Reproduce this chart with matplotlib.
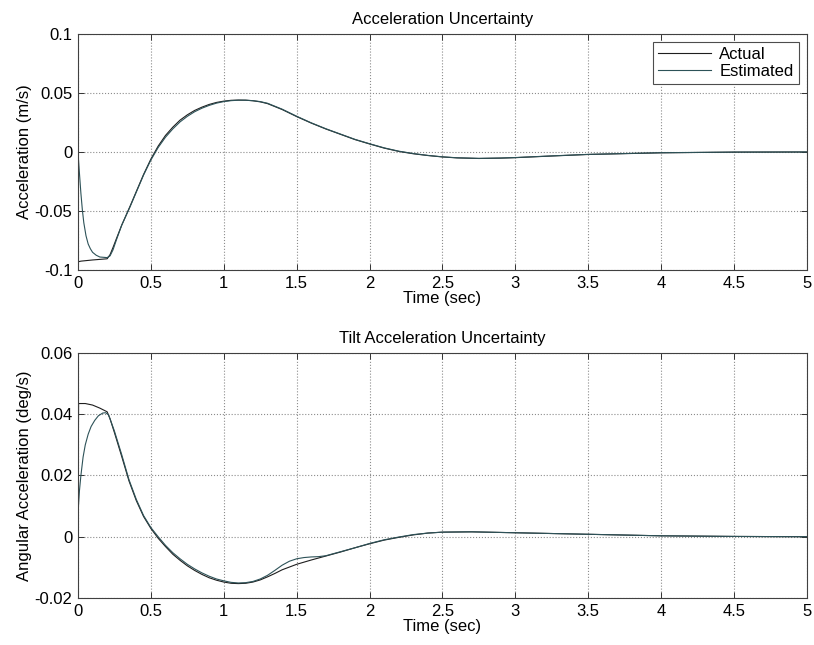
import matplotlib
matplotlib.use('Agg')
import matplotlib.pyplot as plt

plt.rcParams['font.family'] = ['Liberation Sans', 'DejaVu Sans']

# Acceleration uncertainty (top panel)
acc_t_act = [0, 0.003, 0.02, 0.1, 0.2, 0.22, 0.24, 0.265, 0.3, 0.357, 0.4, 0.45, 0.5,
             0.55, 0.6, 0.65, 0.7, 0.75, 0.8, 0.85, 0.9, 0.95, 1.0, 1.05, 1.1, 1.15,
             1.2, 1.25, 1.3, 1.4, 1.5, 1.6, 1.7, 1.8, 1.9, 2.0, 2.1, 2.2, 2.3, 2.4,
             2.5, 2.6, 2.75, 2.9, 3.0, 3.25, 3.5, 4.0, 4.5, 5.0]
acc_act = [0, -0.093, -0.0925, -0.0915, -0.0905, -0.087, -0.081, -0.073, -0.062,
           -0.046, -0.0335, -0.019, -0.006, 0.005, 0.014, 0.021, 0.027, 0.0315,
           0.0352, 0.038, 0.0403, 0.042, 0.0431, 0.0438, 0.0440, 0.0439, 0.0434,
           0.0425, 0.041, 0.036, 0.030, 0.0245, 0.0195, 0.015, 0.0105, 0.0068,
           0.0033, 0.0005, -0.0015, -0.003, -0.0042, -0.005, -0.0055, -0.0052,
           -0.0048, -0.0034, -0.0021, -0.0007, -0.0001, 0]

acc_t_est = [0, 0.01, 0.02, 0.03, 0.04, 0.055, 0.07, 0.085, 0.1, 0.125, 0.15, 0.2,
             0.22, 0.24, 0.265, 0.3, 0.357, 0.4, 0.45, 0.5, 0.55, 0.6, 0.65, 0.7,
             0.75, 0.8, 0.85, 0.9, 0.95, 1.0, 1.05, 1.1, 1.15, 1.2, 1.25, 1.3, 1.4,
             1.5, 1.6, 1.7, 1.8, 1.9, 2.0, 2.1, 2.2, 2.3, 2.4, 2.5, 2.6, 2.75, 2.9,
             3.0, 3.25, 3.5, 4.0, 4.5, 5.0]
acc_est = [0, -0.018, -0.035, -0.049, -0.060, -0.071, -0.078, -0.082, -0.085,
           -0.0875, -0.089, -0.0895, -0.088, -0.083, -0.074, -0.062, -0.0465,
           -0.034, -0.0195, -0.0068, 0.0038, 0.0125, 0.0195, 0.0255, 0.0302,
           0.0341, 0.0371, 0.0395, 0.0414, 0.0427, 0.0435, 0.0439, 0.0439, 0.0435,
           0.0427, 0.0413, 0.0363, 0.0303, 0.0247, 0.0197, 0.0152, 0.0107, 0.0070,
           0.0035, 0.0007, -0.0013, -0.0029, -0.0041, -0.0049, -0.0054, -0.0051,
           -0.0047, -0.0033, -0.0020, -0.0006, -0.0001, 0]

# Tilt acceleration uncertainty (bottom panel)
tilt_t_act = [0, 0.004, 0.05, 0.1, 0.15, 0.2, 0.22, 0.25, 0.3, 0.35, 0.4, 0.45, 0.5,
              0.55, 0.6, 0.65, 0.7, 0.75, 0.8, 0.85, 0.9, 0.95, 1.0, 1.05, 1.1, 1.15,
              1.2, 1.25, 1.3, 1.35, 1.4, 1.5, 1.6, 1.7, 1.8, 1.9, 2.0, 2.1, 2.2, 2.3,
              2.4, 2.5, 2.7, 3.0, 3.5, 4.0, 4.5, 5.0]
tilt_act = [0, 0.0435, 0.0435, 0.0430, 0.0420, 0.0408, 0.0385, 0.0340, 0.0262,
            0.0182, 0.0118, 0.0066, 0.0027, -0.0005, -0.0032, -0.0057, -0.0077,
            -0.0095, -0.0110, -0.0123, -0.0134, -0.0142, -0.0148, -0.0152, -0.0153,
            -0.0152, -0.0148, -0.0141, -0.0131, -0.0120, -0.0108, -0.0090, -0.0076,
            -0.0063, -0.0050, -0.0036, -0.0023, -0.0011, -0.0002, 0.0006, 0.0012,
            0.0015, 0.0016, 0.0013, 0.0008, 0.0003, 0.0001, 0.0]

tilt_t_est = [0, 0.002, 0.01, 0.02, 0.035, 0.05, 0.07, 0.09, 0.115, 0.14, 0.17, 0.19,
              0.21, 0.25, 0.3, 0.35, 0.4, 0.45, 0.5, 0.55, 0.6, 0.65, 0.7, 0.75, 0.8,
              0.85, 0.9, 0.95, 1.0, 1.05, 1.1, 1.15, 1.2, 1.25, 1.3, 1.35, 1.4, 1.45,
              1.5, 1.55, 1.6, 1.65, 1.7, 1.8, 1.9, 2.0, 2.1, 2.2, 2.3, 2.4, 2.5, 2.7,
              3.0, 3.5, 4.0, 4.5, 5.0]
tilt_est = [0, 0.009, 0.015, 0.020, 0.026, 0.030, 0.0335, 0.036, 0.038, 0.0395,
            0.0404, 0.0405, 0.0398, 0.0345, 0.0268, 0.0186, 0.0122, 0.0069, 0.0030,
            0.0000, -0.0028, -0.0052, -0.0072, -0.0090, -0.0105, -0.0118, -0.0129,
            -0.0138, -0.0144, -0.0149, -0.0151, -0.0150, -0.0146, -0.0138, -0.0126,
            -0.0110, -0.0093, -0.0080, -0.0072, -0.0068, -0.0066, -0.0065, -0.0062,
            -0.0049, -0.0036, -0.0022, -0.0010, -0.0001, 0.0007, 0.0012, 0.0015,
            0.0016, 0.0013, 0.0008, 0.0003, 0.0001, 0.0]

acc_yticks = [-0.1, -0.05, 0, 0.05, 0.1]
acc_ylabels = ['-0.1', '-0.05', '0', '0.05', '0.1']
tilt_yticks = [-0.02, 0, 0.02, 0.04, 0.06]
tilt_ylabels = ['-0.02', '0', '0.02', '0.04', '0.06']
xticks = [0, 0.5, 1, 1.5, 2, 2.5, 3, 3.5, 4, 4.5, 5]
xlabels = ['0', '0.5', '1', '1.5', '2', '2.5', '3', '3.5', '4', '4.5', '5']

act_color = '#1e1e1e'
est_color = '#2d5258'
fs = 12


def style_axes(ax, yticks, ylabels):
	ax.set_xlim(0, 5)
	ax.set_xticks(xticks)
	ax.set_xticklabels(xlabels)
	ax.set_ylim(yticks[0], yticks[-1])
	ax.set_yticks(yticks)
	ax.set_yticklabels(ylabels)
	ax.grid(True, linestyle=':', color='0.55', linewidth=0.8)
	ax.tick_params(direction='in', top=True, right=True, length=4, width=0.7,
	               labelsize=fs, colors='0.2', labelcolor='black', pad=4)
	for s in ax.spines.values():
		s.set_linewidth(0.8)
		s.set_color('0.25')
	ax.set_xlabel('Time (sec)', fontsize=fs, labelpad=0)


fig = plt.figure(figsize=(8.14, 6.45), dpi=100)

ax1 = fig.add_axes([0.0958, 0.5814, 0.8956, 0.3659])
ax1.plot(acc_t_act, acc_act, color=act_color, lw=0.8, label='Actual')
ax1.plot(acc_t_est, acc_est, color=est_color, lw=0.8, label='Estimated')
style_axes(ax1, acc_yticks, acc_ylabels)
ax1.set_ylabel('Acceleration (m/s)', fontsize=fs, labelpad=2)
ax1.set_title('Acceleration Uncertainty', fontsize=fs, pad=7)
leg = ax1.legend(loc='upper right', fontsize=fs, handlelength=3.2, fancybox=False,
                 framealpha=1, edgecolor='0.3', borderaxespad=0.5, borderpad=0.3,
                 labelspacing=0.1, handletextpad=0.5)
leg.get_frame().set_linewidth(0.8)

ax2 = fig.add_axes([0.0958, 0.0729, 0.8956, 0.3798])
ax2.plot(tilt_t_act, tilt_act, color=act_color, lw=0.8)
ax2.plot(tilt_t_est, tilt_est, color=est_color, lw=0.8)
style_axes(ax2, tilt_yticks, tilt_ylabels)
ax2.set_ylabel('Angular Acceleration (deg/s)', fontsize=fs, labelpad=2)
ax2.set_title('Tilt Acceleration Uncertainty', fontsize=fs, pad=7)

fig.savefig('out.png', dpi=100)
